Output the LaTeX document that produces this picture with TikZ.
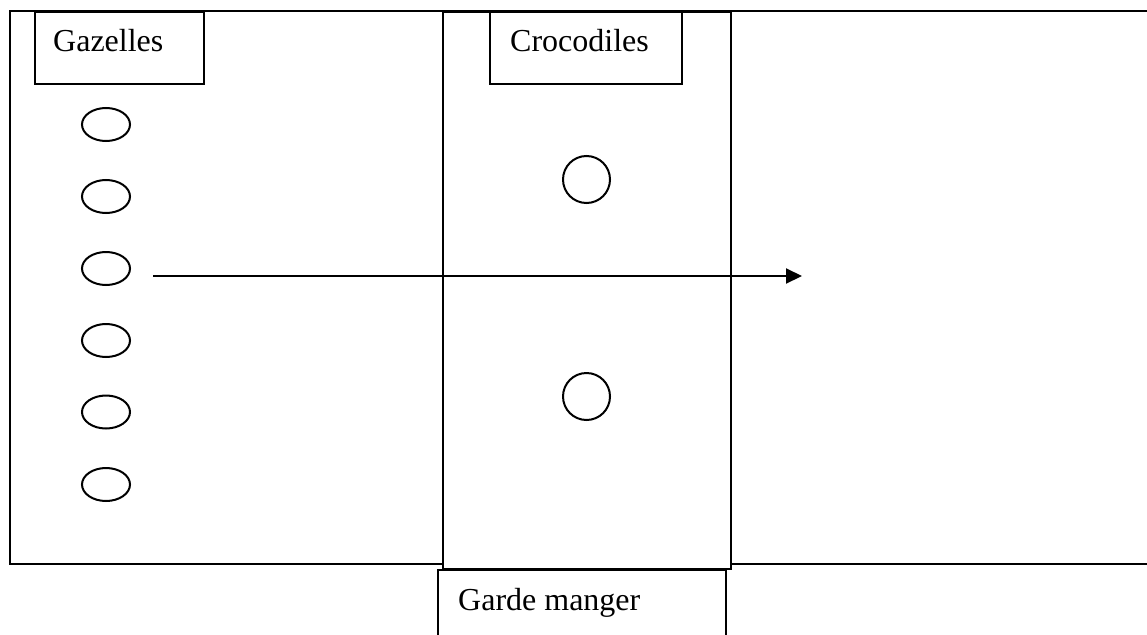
\documentclass[tikz,border=0pt]{standalone}
\usepackage{fontspec}
\setmainfont{Liberation Serif}
\usetikzlibrary{shapes.geometric,arrows.meta}
\tikzset{
  ln/.style={line width=2pt, draw=black},
  boxn/.style={ln, fill=white, rectangle, inner sep=0pt, anchor=north west},
  lbl/.style={anchor=base west, inner sep=0pt, font=\fontsize{32}{38}\selectfont},
  gaz/.style={ln, ellipse, minimum width=48pt, minimum height=33pt, inner sep=0pt},
  croc/.style={ln, circle, minimum size=47pt, inner sep=0pt}
}
\begin{document}
\begin{tikzpicture}[x=1pt,y=-1pt]
\useasboundingbox (0,0) rectangle (1147,634);
\clip (0,0) rectangle (1147,634);
\fill[white] (0,0) rectangle (1147,634);
% outer field
\draw[ln] (1160,11) -- (10,11) -- (10,564) -- (1160,564);
% middle river
\node[boxn, minimum width=288pt, minimum height=557pt] (river) at (442,11) {};
% label boxes
\node[boxn, minimum width=169pt, minimum height=72pt] (gazbox) at (34,11) {};
\node[boxn, minimum width=192pt, minimum height=72pt] (crocbox) at (489,11) {};
\node[boxn, minimum width=288pt, minimum height=80pt] (gmbox) at (437,569) {};
\node[lbl] (gaztxt) at (53,52) {Gazelles};
\node[lbl] (croctxt) at (510,52) {Crocodiles};
\node[lbl] (gmtxt) at (458,610) {Garde manger};
% gazelles
\foreach \i/\y in {1/124.5,2/196.5,3/268.5,4/340.5,5/412,6/484.5}
  \node[gaz] (g\i) at (106,\y) {};
% crocodiles
\node[croc] (c1) at (586.5,179.5) {};
\node[croc] (c2) at (586.5,396.5) {};
% arrow
\coordinate (aend) at (802,276);
\draw[ln, -{Triangle[length=16pt,width=15pt]}] ([xshift=22pt]g3.east |- aend) -- (aend);
\end{tikzpicture}
\end{document}
